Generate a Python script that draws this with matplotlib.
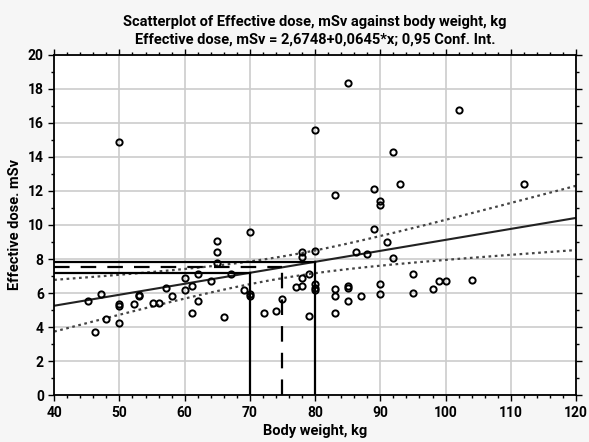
import numpy as np
import matplotlib
matplotlib.use("Agg")
import matplotlib.pyplot as plt
from matplotlib.ticker import MultipleLocator

plt.rcParams['font.family'] = ['Liberation Sans Narrow', 'Roboto', 'DejaVu Sans']
plt.rcParams['font.weight'] = 'bold'

# body weight, kg
weight = [45.2, 46.2, 47.1, 48, 50, 50, 50, 50, 52.2, 53, 53, 55.1, 56.1, 57.2, 58.1,
          60, 60, 61.1, 61.1, 62.1, 62.1, 64, 65, 65, 65, 66.1, 67.1, 69.1, 70, 70,
          70, 72.2, 74, 75, 77, 78, 78, 78, 78, 79, 79, 80, 80, 80, 80,
          80, 83, 83, 83, 83, 85, 85, 85, 85, 86.2, 87, 88, 89, 89, 90,
          90, 90, 90, 91, 92, 92, 93, 95, 95, 98, 99, 100, 102, 104, 112]
# effective dose, mSv
dose = [5.53, 3.73, 5.92, 4.45, 14.85, 5.35, 5.22, 4.25, 5.37, 5.82, 5.9, 5.39, 5.39, 6.31, 5.82,
        6.88, 6.19, 6.41, 4.8, 7.14, 5.53, 6.7, 9.06, 8.43, 7.75, 4.61, 7.14, 6.15, 9.6, 5.96,
        5.82, 4.8, 4.96, 5.67, 6.35, 6.43, 6.86, 8.39, 8.14, 7.14, 4.65, 15.6, 8.48, 6.55, 6.32,
        6.17, 11.78, 6.21, 5.8, 4.8, 18.35, 6.3, 6.4, 5.53, 8.43, 5.82, 8.27, 12.12, 9.76, 11.41,
        11.16, 6.53, 5.96, 8.98, 14.27, 8.04, 12.4, 7.14, 6.02, 6.21, 6.71, 6.71, 16.75, 6.76, 12.4]

intercept = 2.6748
slope = 0.0645
marked_weights = [70, 75, 80]
marked_styles = ['-', (0, (7, 5)), '-']

x = np.array(weight)
y = np.array(dose)
n = len(x)

# 0.95 confidence band for the regression line
xs = np.linspace(40, 120, 200)
fit = intercept + slope * xs
resid = y - (intercept + slope * x)
s = np.sqrt(np.sum(resid ** 2) / (n - 2))
sxx = np.sum((x - x.mean()) ** 2)
t = 1.993
half = t * s * np.sqrt(1 / n + (xs - x.mean()) ** 2 / sxx)

fig = plt.figure(figsize=(5.89, 4.42), dpi=100, facecolor='#f6f6f6')
ax = fig.add_axes([0.092, 0.106, 0.886, 0.770])
ax.set_facecolor('white')

ax.grid(True, color='#cccccc', linewidth=1.2, zorder=0)
ax.plot(x, y, 'o', mfc='none', mec='black', ms=4.5, mew=1.4, zorder=3)
ax.plot(xs, fit, color='#222222', lw=1.5, zorder=2)
ax.plot(xs, fit + half, color='#444444', lw=1.6, ls=(0, (1.2, 1.6)), zorder=2)
ax.plot(xs, fit - half, color='#444444', lw=1.6, ls=(0, (1.2, 1.6)), zorder=2)

for w, st in zip(marked_weights, marked_styles):
    yv = intercept + slope * w
    ax.plot([40, w], [yv, yv], color='black', lw=1.6, ls=st, zorder=2)
    ax.plot([w, w], [0, yv], color='black', lw=1.6, ls=st, zorder=2)

ax.set_xlim(40, 120)
ax.set_ylim(0, 20)
ax.xaxis.set_major_locator(MultipleLocator(10))
ax.xaxis.set_minor_locator(MultipleLocator(2))
ax.yaxis.set_major_locator(MultipleLocator(2))
ax.yaxis.set_minor_locator(MultipleLocator(1))
ax.tick_params(which='both', top=True, right=True, labelsize=10, width=1)
ax.tick_params(which='major', length=4)
ax.tick_params(which='minor', length=2)
for sp in ax.spines.values():
    sp.set_linewidth(1.3)

ax.set_xlabel('Body weight, kg', fontsize=10.5, fontweight='bold', labelpad=3)
ax.set_ylabel('Effective dose. mSv', fontsize=10.5, fontweight='bold', labelpad=4)
ax.set_title('Scatterplot of Effective dose, mSv against body weight, kg\n'
             'Effective dose, mSv = 2,6748+0,0645*x; 0,95 Conf. Int.',
             fontsize=10.5, fontweight='bold', pad=8, linespacing=1.3)

fig.savefig('out.png', dpi=100, facecolor=fig.get_facecolor())
